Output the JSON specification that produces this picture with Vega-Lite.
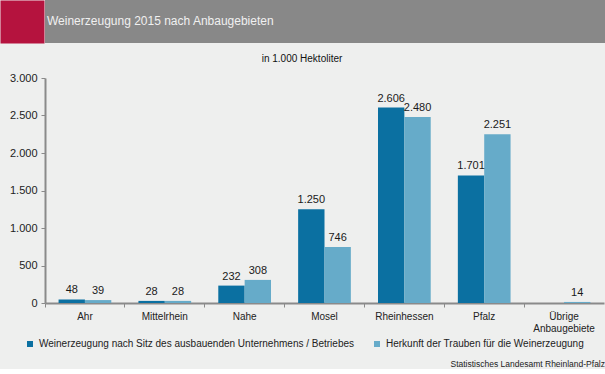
{
  "$schema": "https://vega.github.io/schema/vega-lite/v6.json",
  "background": "#eeefee",
  "padding": 0,
  "autosize": {"type": "pad"},
  "config": {
    "locale": {"number": {"decimal": ",", "thousands": ".", "grouping": [3], "currency": ["", " €"]}},
    "font": "Liberation Sans",
    "view": {"stroke": null}
  },
  "title": {"text": "Statistisches Landesamt Rheinland-Pfalz", "orient": "bottom", "anchor": "end", "frame": "bounds", "fontSize": 8.5, "fontWeight": "normal", "color": "#222222", "offset": 11},
  "spacing": 6,
  "vconcat": [
    {
      "width": 560, "height": 43,
      "view": {"fill": "#888888", "stroke": null},
      "data": {"values": [{}]},
      "mark": {"type": "text", "text": ""},
      "encoding": {
        "y": {"datum": 0, "type": "quantitative", "scale": {"domain": [0, 1]},
              "axis": {"title": null, "labels": false, "ticks": false, "grid": false, "domainColor": "#b5133e", "domainWidth": 44, "offset": 23, "minExtent": 0}}
      },
      "title": {"text": "Weinerzeugung 2015 nach Anbaugebieten", "anchor": "start", "frame": "group", "orient": "top", "offset": -37, "dx": 2, "fontSize": 12, "fontWeight": "normal", "color": "#f0f0f0", "baseline": "alphabetic"}
    },
    {
      "width": 559,
      "height": 225,
      "title": {"text": "in 1.000 Hektoliter", "fontSize": 10, "fontWeight": "normal", "frame": "bounds", "anchor": "middle", "offset": 8, "color": "#111111"},
      "data": {"values": [
        {"gebiet": "Ahr", "reihe": "Weinerzeugung nach Sitz des ausbauenden Unternehmens / Betriebes", "wert": 48},
        {"gebiet": "Ahr", "reihe": "Herkunft der Trauben für die Weinerzeugung", "wert": 39},
        {"gebiet": "Mittelrhein", "reihe": "Weinerzeugung nach Sitz des ausbauenden Unternehmens / Betriebes", "wert": 28},
        {"gebiet": "Mittelrhein", "reihe": "Herkunft der Trauben für die Weinerzeugung", "wert": 28},
        {"gebiet": "Nahe", "reihe": "Weinerzeugung nach Sitz des ausbauenden Unternehmens / Betriebes", "wert": 232},
        {"gebiet": "Nahe", "reihe": "Herkunft der Trauben für die Weinerzeugung", "wert": 308},
        {"gebiet": "Mosel", "reihe": "Weinerzeugung nach Sitz des ausbauenden Unternehmens / Betriebes", "wert": 1250},
        {"gebiet": "Mosel", "reihe": "Herkunft der Trauben für die Weinerzeugung", "wert": 746},
        {"gebiet": "Rheinhessen", "reihe": "Weinerzeugung nach Sitz des ausbauenden Unternehmens / Betriebes", "wert": 2606},
        {"gebiet": "Rheinhessen", "reihe": "Herkunft der Trauben für die Weinerzeugung", "wert": 2480},
        {"gebiet": "Pfalz", "reihe": "Weinerzeugung nach Sitz des ausbauenden Unternehmens / Betriebes", "wert": 1701},
        {"gebiet": "Pfalz", "reihe": "Herkunft der Trauben für die Weinerzeugung", "wert": 2251},
        {"gebiet": "Übrige Anbaugebiete", "reihe": "Herkunft der Trauben für die Weinerzeugung", "wert": 14}
      ]},
      "encoding": {
        "x": {"field": "gebiet", "type": "nominal",
              "sort": ["Ahr", "Mittelrhein", "Nahe", "Mosel", "Rheinhessen", "Pfalz", "Übrige Anbaugebiete"],
              "scale": {"paddingInner": 0, "paddingOuter": 0},
              "axis": {"title": null, "labelAngle": 0, "bandPosition": 0, "tickSize": 4, "tickColor": "#8a8a8a", "domainColor": "#8a8a8a", "domainWidth": 2, "labelFontSize": 10, "labelColor": "#222222", "labelPadding": 4, "labelLineHeight": 12, "labelBaseline": "top",
                       "labelExpr": "datum.label == 'Übrige Anbaugebiete' ? ['Übrige', 'Anbaugebiete'] : datum.label"}},
        "xOffset": {"field": "reihe", "type": "nominal",
                    "scale": {"domain": ["Weinerzeugung nach Sitz des ausbauenden Unternehmens / Betriebes", "Herkunft der Trauben für die Weinerzeugung"], "paddingInner": 0, "paddingOuter": 0.515}},
        "y": {"field": "wert", "type": "quantitative", "scale": {"domain": [0, 3000]},
              "axis": {"title": null, "values": [0, 500, 1000, 1500, 2000, 2500, 3000], "format": ",d", "grid": false, "tickSize": 4, "tickColor": "#8a8a8a", "domainColor": "#8a8a8a", "domainWidth": 2, "labelFontSize": 11, "labelColor": "#222222", "labelPadding": 4, "minExtent": 45, "maxExtent": 45}}
      },
      "layer": [
        {"mark": {"type": "bar"},
         "encoding": {"color": {"field": "reihe", "type": "nominal",
            "scale": {"domain": ["Weinerzeugung nach Sitz des ausbauenden Unternehmens / Betriebes", "Herkunft der Trauben für die Weinerzeugung"], "range": ["#0b70a1", "#66abc9"]},
            "legend": {"orient": "none", "legendX": -20, "legendY": 339, "direction": "horizontal", "title": null, "symbolType": "square", "symbolSize": 36, "symbolStrokeWidth": 0, "labelFontSize": 10, "labelColor": "#222222", "columnPadding": 17, "labelLimit": 500}}}},
        {"mark": {"type": "text", "baseline": "alphabetic", "dy": -6, "fontSize": 11, "color": "#1a1a1a"},
         "encoding": {"text": {"field": "wert", "type": "quantitative", "format": ",d"}}}
      ]
    }
  ]
}
